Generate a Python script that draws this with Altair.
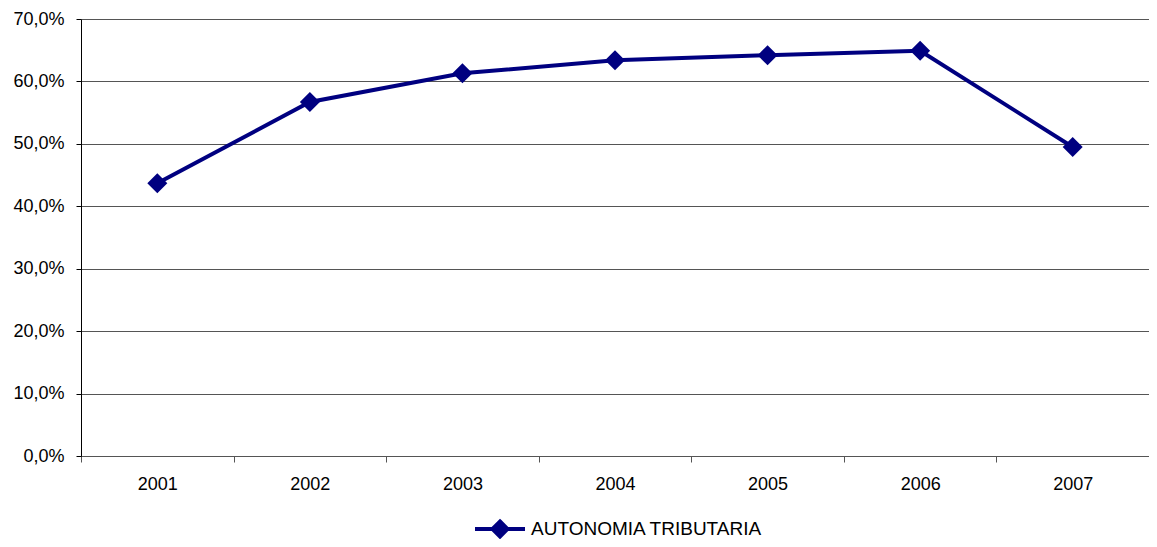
import altair as alt
import pandas as pd

years = ["2001", "2002", "2003", "2004", "2005", "2006", "2007"]
values = [0.437, 0.567, 0.613, 0.634, 0.642, 0.649, 0.495]
series = ["AUTONOMIA TRIBUTARIA"] * len(years)
y_ticks = [0, 0.1, 0.2, 0.3, 0.4, 0.5, 0.6, 0.7]

df = pd.DataFrame({"year": years, "value": values, "series": series})

FONT = "Liberation Sans"
NAVY = "#000080"

x = alt.X(
    "year:O",
    title=None,
    scale=alt.Scale(type="band", paddingInner=0, paddingOuter=0),
    axis=alt.Axis(
        tickBand="extent",
        labelAngle=0,
        labelFont=FONT,
        labelFontSize=18,
        labelColor="#000000",
        labelPadding=13,
        tickSize=6,
        tickColor="#555555",
        domainColor="#555555",
        grid=False,
    ),
)
y = alt.Y(
    "value:Q",
    title=None,
    scale=alt.Scale(domain=[0, 0.7], nice=False),
    axis=alt.Axis(
        values=y_ticks,
        format=".1%",
        labelExpr="replace(datum.label, '.', ',')",
        labelFont=FONT,
        labelFontSize=18,
        labelColor="#000000",
        labelPadding=12,
        tickSize=5,
        tickColor="#000000",
        domainColor="#000000",
        gridColor="#555555",
        gridWidth=1,
    ),
)

color = alt.Color(
    "series:N",
    title=None,
    scale=alt.Scale(range=[NAVY]),
    legend=alt.Legend(
        orient="none",
        legendX=392,
        legendY=483,
        symbolType="M-1,0L1,0M0,-0.3L0.3,0L0,0.3L-0.3,0Z",
        symbolSize=2500,
        symbolStrokeWidth=4,
        symbolFillColor=NAVY,
        symbolStrokeColor=NAVY,
        labelFont=FONT,
        labelFontSize=19,
        labelColor="#000000",
        labelOffset=4,
        labelLimit=600,
        padding=0,
    ),
)

line = alt.Chart(df).mark_line(strokeWidth=4, color=NAVY).encode(x=x, y=y, color=color)
points = alt.Chart(df).mark_point(
    shape="diamond", filled=True, size=400, opacity=1, color=NAVY
).encode(x=x, y=y, color=color)

chart = (
    alt.layer(line, points)
    .properties(
        width=1068,
        height=437,
        autosize=alt.AutoSizeParams(type="none"),
        padding={"left": 73, "top": 11, "right": 0, "bottom": 83},
    )
    .configure_view(stroke=None)
    .configure(background="#ffffff")
)

chart.save("out.html", embed_options={"renderer": "svg", "actions": False})
